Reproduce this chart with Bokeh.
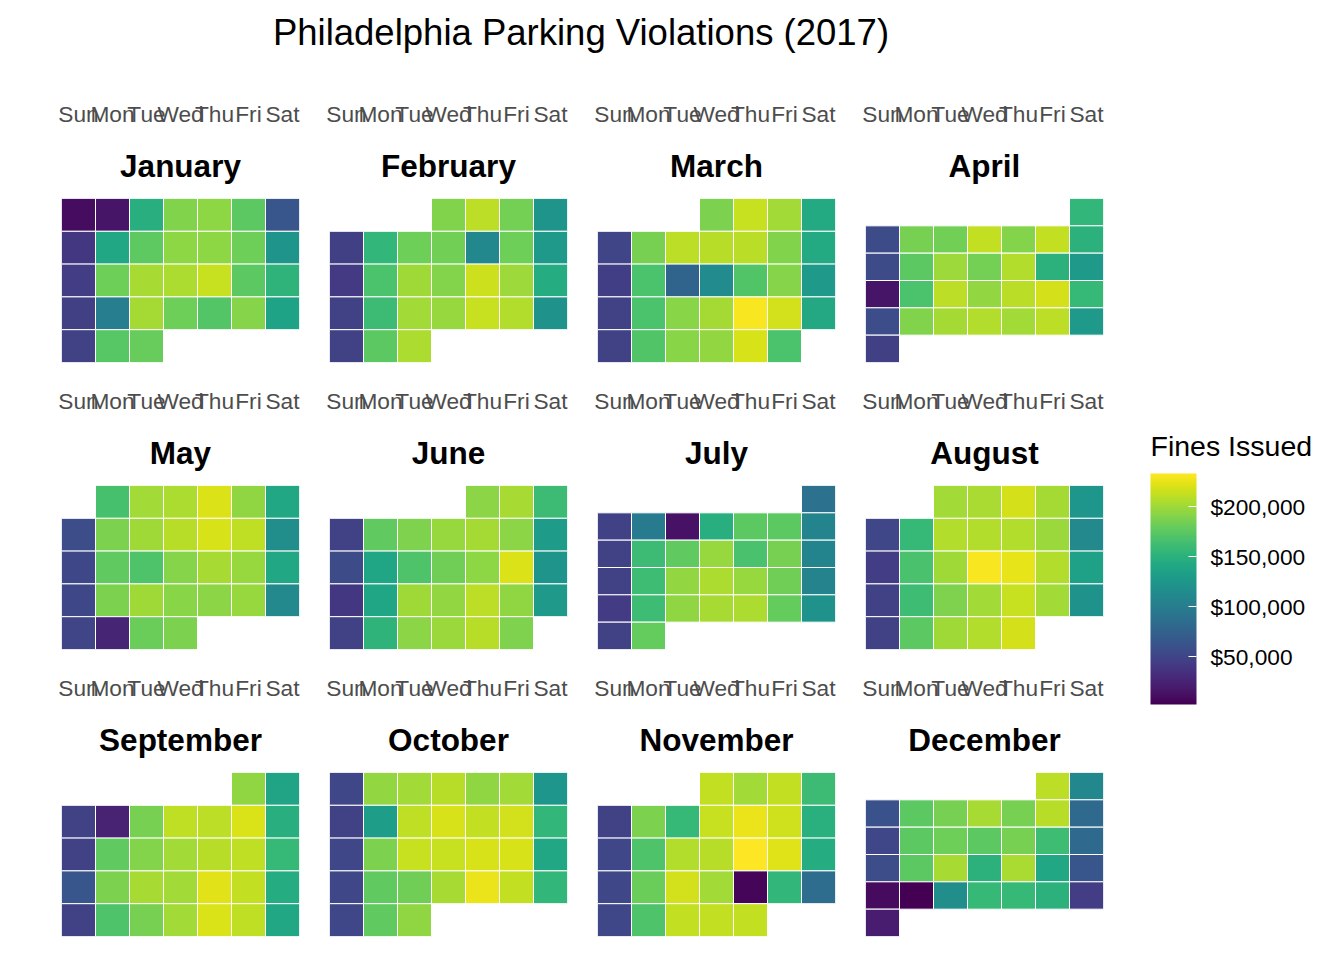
import datetime
from bokeh.plotting import figure
from bokeh.models import (FactorRange, Range1d, ColumnDataSource, LinearColorMapper, ColorBar,
                          FixedTicker, NumeralTickFormatter, Title, CategoricalAxis, Div, Label)
from bokeh.layouts import gridplot, column, row
from bokeh.palettes import Viridis256
from bokeh.embed import file_html
from bokeh.resources import INLINE

YEAR = 2017
month_names = ["January", "February", "March", "April", "May", "June",
               "July", "August", "September", "October", "November", "December"]
day_labels = ["Sun", "Mon", "Tue", "Wed", "Thu", "Fri", "Sat"]
legend_ticks = [50000, 100000, 150000, 200000]

# Daily fines issued (USD), one value per day of the month
jan = [10000, 15000, 148000, 189000, 194000, 175000, 64000,
       39000, 140000, 176000, 194000, 194000, 182000, 122000,
       44000, 182000, 203000, 205000, 214000, 175000, 152000,
       46000, 101000, 202000, 182000, 171000, 191000, 136000,
       47000, 173000, 179000]
feb = [189000, 210000, 185000, 122000,
       46000, 155000, 182000, 184000, 110000, 182000, 127000,
       41000, 168000, 200000, 190000, 215000, 199000, 145000,
       48000, 160000, 201000, 197000, 214000, 206000, 120000,
       48000, 175000, 205000]
mar = [187000, 214000, 201000, 143000,
       50000, 186000, 210000, 208000, 209000, 189000, 143000,
       45000, 168000, 76000, 113000, 170000, 191000, 127000,
       48000, 168000, 192000, 202000, 231000, 217000, 141000,
       48000, 170000, 192000, 196000, 219000, 168000]
apr = [155000,
       55000, 186000, 184000, 212000, 190000, 212000, 150000,
       55000, 175000, 199000, 185000, 206000, 150000, 127000,
       15000, 168000, 210000, 196000, 209000, 218000, 157000,
       57000, 189000, 202000, 206000, 201000, 210000, 127000,
       46000]
may = [166000, 201000, 205000, 221000, 195000, 140000,
       57000, 187000, 200000, 208000, 219000, 211000, 116000,
       52000, 177000, 169000, 191000, 203000, 197000, 140000,
       52000, 187000, 200000, 192000, 193000, 197000, 111000,
       50000, 26000, 181000, 187000]
jun = [193000, 203000, 160000,
       47000, 177000, 188000, 197000, 202000, 193000, 129000,
       55000, 138000, 169000, 183000, 194000, 221000, 122000,
       39000, 138000, 200000, 196000, 210000, 195000, 127000,
       47000, 152000, 193000, 198000, 208000, 188000]
jul = [88000,
       47000, 97000, 13000, 148000, 175000, 175000, 106000,
       48000, 160000, 177000, 197000, 167000, 186000, 106000,
       48000, 161000, 196000, 205000, 197000, 183000, 105000,
       42000, 161000, 195000, 203000, 205000, 178000, 121000,
       48000, 178000]
aug = [201000, 204000, 218000, 202000, 123000,
       51000, 157000, 206000, 206000, 206000, 198000, 111000,
       44000, 167000, 200000, 231000, 224000, 206000, 134000,
       48000, 161000, 188000, 201000, 214000, 201000, 121000,
       48000, 175000, 200000, 206000, 218000]
sep = [195000, 137000,
       48000, 24000, 186000, 211000, 210000, 220000, 148000,
       48000, 177000, 190000, 201000, 208000, 211000, 157000,
       64000, 187000, 203000, 201000, 223000, 212000, 145000,
       48000, 169000, 186000, 201000, 220000, 211000, 140000]
oct_ = [51000, 196000, 201000, 208000, 195000, 201000, 123000,
        48000, 131000, 211000, 219000, 212000, 217000, 155000,
        51000, 187000, 214000, 214000, 219000, 219000, 140000,
        51000, 177000, 183000, 203000, 226000, 212000, 155000,
        51000, 177000, 195000]
nov = [212000, 201000, 212000, 160000,
       48000, 187000, 157000, 214000, 226000, 216000, 149000,
       51000, 169000, 206000, 208000, 233000, 222000, 145000,
       51000, 181000, 217000, 201000, 6000, 155000, 85000,
       51000, 169000, 212000, 212000, 212000]
dec = [210000, 110000,
       60000, 175000, 186000, 203000, 186000, 208000, 81000,
       51000, 175000, 182000, 175000, 186000, 161000, 81000,
       57000, 175000, 203000, 150000, 204000, 140000, 64000,
       9000, 2000, 116000, 157000, 157000, 150000, 44000,
       20000]

months = [jan, feb, mar, apr, may, jun, jul, aug, sep, oct_, nov, dec]

FONT = "Liberation Sans"
all_vals = [v for m in months for v in m]
mapper = LinearColorMapper(palette=Viridis256, low=min(all_vals), high=max(all_vals))

figs = []
for i, (name, vals) in enumerate(zip(month_names, months)):
    first = datetime.date(YEAR, i + 1, 1)
    offset = (first.weekday() + 1) % 7
    dows, weeks = [], []
    for d in range(len(vals)):
        k = offset + d
        dows.append(day_labels[k % 7])
        weeks.append(k // 7 + 0.5)
    nrows = (offset + len(vals) + 6) // 7
    src = ColumnDataSource(dict(dow=dows, week=weeks, value=vals))
    col = i % 4
    p = figure(x_range=FactorRange(*day_labels), y_range=Range1d(nrows, 0),
               frame_width=238, frame_height=164,
               min_border_left=61 if col == 0 else 15, min_border_right=15,
               min_border_top=110, min_border_bottom=13,
               x_axis_location=None, y_axis_location=None,
               toolbar_location=None, output_backend="svg", title=None)
    p.rect(x="dow", y="week", width=1, height=1, source=src,
           fill_color={"field": "value", "transform": mapper},
           line_color="white", line_width=1)
    p.grid.visible = False
    p.outline_line_color = None
    p.add_layout(Title(text=name, align="center", text_font=FONT, text_font_size="31.5px",
                       text_font_style="bold", text_color="black", standoff=30), "above")
    ax = CategoricalAxis(major_label_text_font=FONT, major_label_text_font_size="22.7px",
                         major_label_text_color="#4d4d4d", axis_line_color=None,
                         major_tick_line_color=None, minor_tick_line_color=None,
                         major_label_standoff=-2)
    p.add_layout(ax, "above")
    figs.append(p)

grid = gridplot(figs, ncols=4, toolbar_location=None)

leg = figure(frame_width=226, frame_height=861, min_border_left=0, min_border_right=0,
             min_border_top=0, min_border_bottom=0, x_axis_location=None, y_axis_location=None,
             toolbar_location=None, output_backend="svg", title=None)
leg.grid.visible = False
leg.outline_line_color = None
cb = ColorBar(color_mapper=mapper, location=(32, 245), width=46, height=231, padding=0,
              ticker=FixedTicker(ticks=legend_ticks),
              formatter=NumeralTickFormatter(format="$0,0"),
              major_label_text_font=FONT, major_label_text_font_size="22.7px",
              major_label_text_color="black", label_standoff=14,
              major_tick_line_color="white", major_tick_in=8, major_tick_out=0,
              minor_tick_line_color=None, bar_line_color=None, border_line_color=None,
              background_fill_alpha=0)
leg.add_layout(cb, "center")
leg.add_layout(Label(x=32, y=504, x_units="screen", y_units="screen", text="Fines Issued",
                     text_font=FONT, text_font_size="28.5px", text_color="black",
                     text_baseline="alphabetic", text_align="left"))

title_div = Div(text='<div style="font-size:36.5px;font-family:\'Liberation Sans\';'
                     'text-align:center;padding-top:7px;color:black;width:1162px;">'
                     'Philadelphia Parking Violations (2017)</div>',
                width=1162, height=88, margin=0)

layout = column(title_div, row(grid, leg))
open("out.html", "w").write(file_html(layout, INLINE))
